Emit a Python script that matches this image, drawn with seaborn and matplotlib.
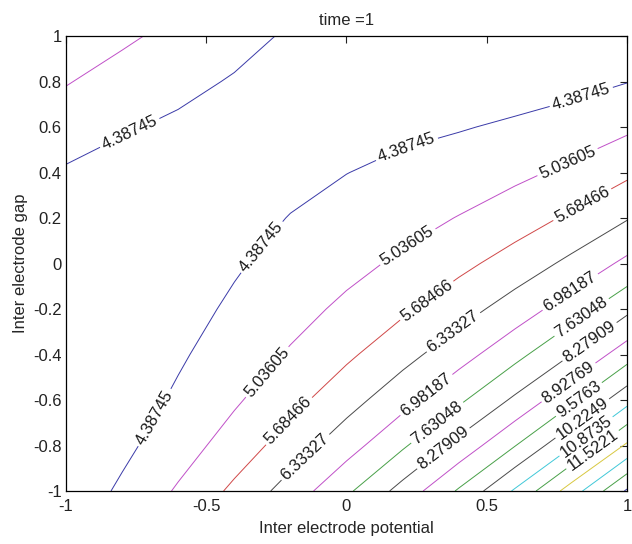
import numpy as np
import matplotlib
matplotlib.use("Agg")
import matplotlib.pyplot as plt
import seaborn as sns

# coded factor levels (grid the response was read on)
potential = [-1.0, -0.8, -0.6, -0.4, -0.2, 0.0, 0.2, 0.4, 0.6, 0.8, 1.0]
gap = [1.0, 0.8, 0.6, 0.4, 0.2, 0.0, -0.2, -0.4, -0.6, -0.8, -1.0]

# response at time = 1, one row per gap value (top row gap = 1)
response = [
    [5.64, 5.17, 4.82, 4.54, 4.33, 4.16, 4.02, 3.91, 3.84, 3.83, 3.89],
    [5.08, 4.74, 4.51, 4.35, 4.23, 4.16, 4.11, 4.10, 4.12, 4.20, 4.37],
    [4.65, 4.43, 4.31, 4.24, 4.22, 4.24, 4.28, 4.35, 4.47, 4.65, 4.92],
    [4.33, 4.22, 4.19, 4.21, 4.28, 4.38, 4.51, 4.67, 4.89, 5.17, 5.56],
    [4.10, 4.08, 4.14, 4.25, 4.40, 4.58, 4.80, 5.06, 5.38, 5.78, 6.29],
    [3.94, 4.00, 4.14, 4.33, 4.57, 4.84, 5.15, 5.52, 5.95, 6.48, 7.13],
    [3.83, 3.97, 4.20, 4.47, 4.80, 5.17, 5.58, 6.06, 6.63, 7.30, 8.12],
    [3.77, 4.00, 4.31, 4.68, 5.10, 5.57, 6.11, 6.72, 7.43, 8.27, 9.28],
    [3.77, 4.09, 4.48, 4.95, 5.48, 6.08, 6.75, 7.51, 8.39, 9.42, 10.65],
    [3.83, 4.24, 4.74, 5.32, 5.98, 6.71, 7.54, 8.48, 9.55, 10.80, 12.27],
    [3.97, 4.49, 5.11, 5.82, 6.61, 7.51, 8.51, 9.65, 10.95, 12.46, 14.20],
]

levels = [4.38745, 5.03605, 5.68466, 6.33327, 6.98187, 7.63048, 8.27909,
          8.92769, 9.5763, 10.2249, 10.8735, 11.5221, 12.1707, 12.8193,
          13.4679, 14.1165]

# line colour for each level, as in the figure
level_colors = ['#3a3aa8', '#c050c8', '#d04848', '#4a4a4a', '#c050c8', '#48a048',
                '#4a4a4a', '#c050c8', '#48a048', '#4a4a4a', '#40c8d8', '#48a048',
                '#d8c840', '#40c8d8', '#48a048', '#3a3aa8']

# where the inline labels sit
label_spots = {
    4.38745: [(-0.76, 0.54), (-0.68, -0.68), (-0.30, 0.07), (0.22, 0.48), (0.84, 0.72)],
    5.03605: [(-0.27, -0.49), (0.22, 0.07), (0.79, 0.44)],
    5.68466: [(-0.19, -0.71), (0.29, -0.17), (0.84, 0.26)],
    6.33327: [(-0.14, -0.86), (0.38, -0.30)],
    6.98187: [(0.28, -0.57), (0.80, -0.13)],
    7.63048: [(0.33, -0.71), (0.84, -0.24)],
    8.27909: [(0.35, -0.82), (0.87, -0.35)],
    8.92769: [(0.79, -0.52)],
    9.5763: [(0.83, -0.60)],
    10.2249: [(0.84, -0.68)],
    10.8735: [(0.86, -0.77)],
    11.5221: [(0.89, -0.84)],
}

sns.set_theme(style="white")
plt.rcParams['font.family'] = ['Liberation Sans', 'DejaVu Sans']

fig = plt.figure(figsize=(6.32, 5.44), dpi=100)
ax = fig.add_axes([0.1044, 0.0974, 0.8877, 0.8364])

X, Y = np.meshgrid(potential, gap)
Z = np.array(response)

# one contour set per level so each one keeps its own colour and labels
for lev, col in zip(levels, level_colors):
    cs = ax.contour(X, Y, Z, levels=[lev], colors=[col], linewidths=0.7)
    spots = label_spots.get(lev)
    if spots:
        ax.clabel(cs, manual=spots, inline=True, inline_spacing=3,
                  fontsize=12, colors='k', fmt='%g')

ax.set_xlim(-1, 1)
ax.set_ylim(-1, 1)
ax.set_xticks([-1, -0.5, 0, 0.5, 1])
ax.set_xticklabels(['-1', '-0.5', '0', '0.5', '1'])
ax.set_yticks(np.round(np.arange(-1, 1.01, 0.2), 1))
ax.set_yticklabels(['-1', '-0.8', '-0.6', '-0.4', '-0.2', '0', '0.2', '0.4', '0.6', '0.8', '1'])
ax.tick_params(direction='in', top=True, right=True, length=5, width=0.8,
               labelsize=12, colors='#222222')
ax.tick_params(axis='x', pad=6)
ax.tick_params(axis='y', pad=3)
for s in ax.spines.values():
    s.set_color('black')
    s.set_linewidth(0.9)

ax.set_xlabel('Inter electrode potential', fontsize=12, labelpad=5)
ax.set_ylabel('Inter electrode gap', fontsize=12, labelpad=4)
ax.set_title('time =1', fontsize=12, pad=8)

fig.savefig('out.png', dpi=100, facecolor='white')
